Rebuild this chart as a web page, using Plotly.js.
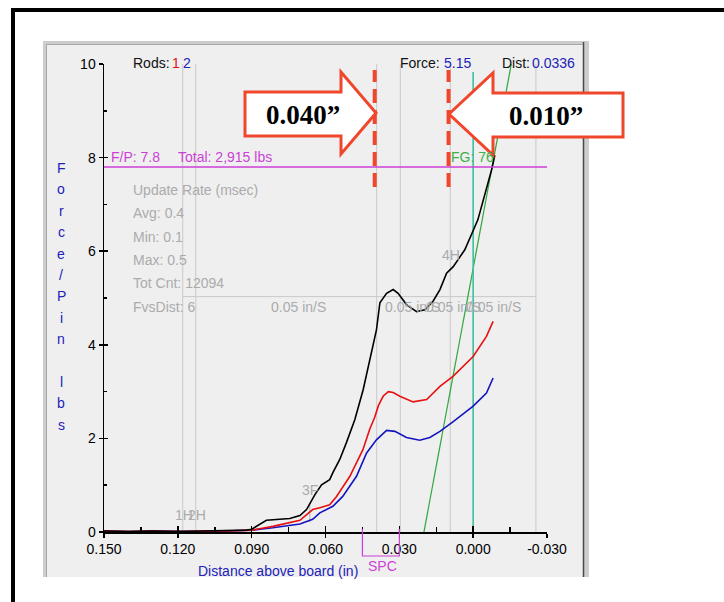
<!DOCTYPE html>
<html>
<head>
<meta charset="utf-8">
<script src="https://cdn.plot.ly/plotly-3.0.1.min.js"></script>
<style>
html,body{margin:0;padding:0;background:#fff;}
#chart{width:724px;height:602px;}
</style>
</head>
<body>
<div id="chart"></div>
<script>
// ---- Data (distance above board in inches, force per pin in lbs) ----
const distBlack = [0.150, 0.140, 0.130, 0.120, 0.110, 0.100, 0.092, 0.090, 0.087, 0.084, 0.0745, 0.0704, 0.0677, 0.0643, 0.0616, 0.0583, 0.0570, 0.0542, 0.0515, 0.0494, 0.0481, 0.0447, 0.0420, 0.0393, 0.0379, 0.0352, 0.0325, 0.0305, 0.0271, 0.0230, 0.0196, 0.0163, 0.0135, 0.0108, 0.0081, 0.0054, 0.0034, -0.0019, -0.0034, -0.0054, -0.0075, -0.0088];
const forceBlack = [0.02, 0.01, 0.02, 0.01, 0.02, 0.03, 0.04, 0.06, 0.15, 0.25, 0.29, 0.35, 0.48, 0.80, 1.01, 1.12, 1.27, 1.55, 1.91, 2.19, 2.40, 3.04, 3.67, 4.32, 4.90, 5.10, 5.18, 5.10, 4.86, 4.71, 4.75, 4.93, 5.18, 5.53, 5.67, 5.89, 6.03, 6.67, 6.95, 7.38, 7.74, 8.05];

const distRed = [0.150, 0.140, 0.130, 0.120, 0.110, 0.100, 0.090, 0.0814, 0.0704, 0.0652, 0.0623, 0.0596, 0.0583, 0.0555, 0.0542, 0.0501, 0.0448, 0.0420, 0.0400, 0.0385, 0.0366, 0.0345, 0.0325, 0.0298, 0.0244, 0.0189, 0.0135, 0.0081, 0.0000, -0.0054, -0.0081];
const forceRed = [0.02, 0.01, 0.02, 0.01, 0.02, 0.02, 0.04, 0.12, 0.25, 0.48, 0.52, 0.57, 0.58, 0.76, 0.87, 1.19, 1.76, 2.20, 2.45, 2.70, 2.90, 3.00, 2.98, 2.90, 2.78, 2.83, 3.11, 3.33, 3.75, 4.18, 4.50];

const distBlue = [0.150, 0.140, 0.130, 0.120, 0.110, 0.100, 0.090, 0.0814, 0.0704, 0.0652, 0.0623, 0.0596, 0.0570, 0.0530, 0.0474, 0.0433, 0.0393, 0.0352, 0.0318, 0.0271, 0.0217, 0.0176, 0.0135, 0.0081, 0.0000, -0.0054, -0.0081];
const forceBlue = [0.02, 0.01, 0.02, 0.01, 0.01, 0.02, 0.04, 0.09, 0.17, 0.27, 0.41, 0.48, 0.55, 0.76, 1.19, 1.69, 1.97, 2.17, 2.15, 2.02, 1.96, 2.02, 2.15, 2.36, 2.69, 2.97, 3.29];

const fgDist = [0.020, -0.0155];
const fgForce = [0.0, 10.0];
const tealDist = [0.000, 0.000];
const tealForce = [0.0, 9.83];
const fpDist = [0.150, -0.030];
const fpForce = [7.8, 7.8];

const markerDist = [0.118, 0.1127, 0.0392, 0.0296, 0.0093, -0.0255];
const speedForce = 5.03;
const speedRange = [0.118, -0.0255];
const speedLabelDist = [0.0825, 0.0363, 0.0196, 0.0034];
const speedLabel = "0.05 in/S";
const arrowDist = [0.040, 0.010];
const arrowLabels = ["0.040\u201D", "0.010\u201D"];
const spcRange = [0.045, 0.030];

const xTickVals = [0.150, 0.120, 0.090, 0.060, 0.030, 0.000, -0.030];
const xTickText = ["0.150", "0.120", "0.090", "0.060", "0.030", "0.000", "-0.030"];
const yTickVals = [0, 2, 4, 6, 8, 10];

const statsLines = ["Update Rate (msec)", "Avg: 0.4", "Min: 0.1", "Max: 0.5", "Tot Cnt: 12094", "FvsDist: 6"];
const yTitle = "Force/Pin lbs";

// ---- helpers (pixel -> paper for decorations) ----
const L = 104, R = 547, T = 64, B = 532;
const pxX = x => (x - L) / (R - L);
const pxY = y => (B - y) / (B - T);
const dX = d => (0.150 - d) / 0.180;
function poly(pts){ return 'M' + pts.map(p => pxX(p[0]).toFixed(5) + ',' + pxY(p[1]).toFixed(5)).join(' L') + ' Z'; }

const FONT = 'Liberation Sans, Arial, sans-serif';
const GRAYTXT = '#ababab';
const BLUE = '#2222b8';
const MAG = '#cc3fd6';
const RED_A = '#f0462c';
const FS = 14;

const traces = [
  {x: fgDist, y: fgForce, mode: 'lines', line: {color: '#2fa83a', width: 1.2}, hoverinfo: 'skip'},
  {x: tealDist, y: tealForce, mode: 'lines', line: {color: '#3cbfa0', width: 1.6}, hoverinfo: 'skip'},
  {x: distBlue, y: forceBlue, mode: 'lines', line: {color: '#1414c0', width: 1.6}, name: 'Rod 2'},
  {x: distRed, y: forceRed, mode: 'lines', line: {color: '#e81010', width: 1.6}, name: 'Rod 1'},
  {x: distBlack, y: forceBlack, mode: 'lines', line: {color: '#000000', width: 1.6}, name: 'Total'},
  {x: fpDist, y: fpForce, xaxis: 'x2', yaxis: 'y2', mode: 'lines', line: {color: MAG, width: 1.6}, hoverinfo: 'skip'}
];

const shapes = [];
// outer black frame
shapes.push({type: 'rect', xref: 'paper', yref: 'paper', x0: pxX(13), x1: pxX(780), y0: pxY(10), y1: pxY(660), line: {color: '#000', width: 4}, layer: 'below'});
// gray window
shapes.push({type: 'rect', xref: 'paper', yref: 'paper', x0: pxX(43), x1: pxX(589), y0: pxY(41), y1: pxY(577), fillcolor: '#cdcdcd', line: {width: 0}, layer: 'below'});
shapes.push({type: 'rect', xref: 'paper', yref: 'paper', x0: pxX(46), x1: pxX(583), y0: pxY(44), y1: pxY(577), fillcolor: '#efefef', line: {width: 0}, layer: 'below'});
shapes.push({type: 'line', xref: 'paper', yref: 'paper', x0: pxX(583.5), x1: pxX(583.5), y0: pxY(42), y1: pxY(577), line: {color: '#4a4a4a', width: 1.5}, layer: 'below'});
shapes.push({type: 'line', xref: 'paper', yref: 'paper', x0: pxX(46), x1: pxX(583), y0: pxY(44.5), y1: pxY(44.5), line: {color: '#a8a8a8', width: 1}, layer: 'below'});
shapes.push({type: 'line', xref: 'paper', yref: 'paper', x0: pxX(46.5), x1: pxX(46.5), y0: pxY(44), y1: pxY(577), line: {color: '#a8a8a8', width: 1}, layer: 'below'});
// event marker grid lines
markerDist.forEach(d => shapes.push({type: 'line', xref: 'x', yref: 'y', x0: d, x1: d, y0: 0, y1: 10, line: {color: '#c9c9c9', width: 1}, layer: 'below'}));
shapes.push({type: 'line', xref: 'x', yref: 'y', x0: speedRange[0], x1: speedRange[1], y0: speedForce, y1: speedForce, line: {color: '#c9c9c9', width: 1}, layer: 'below'});
shapes.push({type: 'line', xref: 'x', yref: 'y', x0: 0.0664, x1: 0.0664, y0: 0.21, y1: 0.58, line: {color: '#b5b5b5', width: 1}, layer: 'below'});
// SPC bracket
shapes.push({type: 'path', xref: 'paper', yref: 'paper',
  path: 'M' + dX(spcRange[0]) + ',' + pxY(529) + ' L' + dX(spcRange[0]) + ',' + pxY(556) + ' L' + dX(spcRange[1]) + ',' + pxY(556) + ' L' + dX(spcRange[1]) + ',' + pxY(529),
  line: {color: MAG, width: 1.2}});
// red dashed lines
arrowDist.forEach(d => shapes.push({type: 'line', xref: 'x', yref: 'y', x0: d, x1: d, y0: 7.37, y1: 9.87, line: {color: RED_A, width: 4, dash: '14px,7px'}, layer: 'above'}));
// arrows
shapes.push({type: 'path', xref: 'paper', yref: 'paper', path: poly([[245,92],[341,92],[341,72],[376,113],[341,154],[341,136],[245,136]]), fillcolor: '#ffffff', line: {color: RED_A, width: 3}, layer: 'above'});
shapes.push({type: 'path', xref: 'paper', yref: 'paper', path: poly([[623,93],[493,93],[493,73],[449,114],[493,155],[493,137],[623,137]]), fillcolor: '#ffffff', line: {color: RED_A, width: 3}, layer: 'above'});

const ann = [];
function txt(text, x, y, color, size, anchor, extra){
  ann.push(Object.assign({text: text, xref: 'paper', yref: 'paper', x: pxX(x), y: pxY(y), xanchor: anchor || 'left', yanchor: 'middle', showarrow: false, borderpad: 0,
    font: {family: FONT, size: size || FS, color: color}}, extra || {}));
}
// header
txt('Rods:', 132, 63, '#111');
txt('1', 171, 63, '#e81010');
txt('2', 182, 63, BLUE);
txt('Force:', 399, 63, '#111');
txt('5.15', 443, 63, BLUE);
txt('Dist:', 501, 63, '#111');
txt('0.0336', 531, 63, BLUE);
// F/P and FG
txt('F/P: 7.8', 110, 157, MAG);
txt('Total: 2,915 lbs', 177, 157, MAG);
txt('FG: 76', 450, 157, '#3cb04a');
// stats
statsLines.forEach((s, i) => txt(s, 132, 190 + i * 23.3, GRAYTXT));
// speed labels
speedLabelDist.forEach(d => ann.push({text: speedLabel, xref: 'x', yref: 'paper', x: d, y: pxY(307), xanchor: 'left', yanchor: 'middle', showarrow: false, borderpad: 0, font: {family: FONT, size: FS, color: GRAYTXT}}));
// event labels
txt('1H', 184, 515, GRAYTXT, FS, 'center');
txt('2H', 197, 515, GRAYTXT, FS, 'center');
txt('3F', 310, 490, GRAYTXT, FS, 'center');
txt('4H', 451, 255, GRAYTXT, FS, 'center');
// axis titles
txt('Distance above board (in)', 278, 571, BLUE, FS, 'center');
yTitle.split('').forEach((c, i) => { if (c !== ' ') txt(c, 61, 168 + i * 21.4, BLUE, 14, 'center'); });
txt('SPC', 382, 566, MAG, FS, 'center');
// arrow labels
txt(arrowLabels[0], 303, 115, '#000', 27, 'center', {font: {family: 'Liberation Serif, Times New Roman, serif', size: 27, color: '#000', weight: 'bold'}});
txt(arrowLabels[1], 546, 116, '#000', 27, 'center', {font: {family: 'Liberation Serif, Times New Roman, serif', size: 27, color: '#000', weight: 'bold'}});

const axisCommon = {showgrid: false, zeroline: false, showline: false, fixedrange: true};
const layout = {
  width: 724, height: 602,
  margin: {l: L, r: 724 - R, t: T, b: 602 - B, pad: 0},
  paper_bgcolor: '#ffffff', plot_bgcolor: 'rgba(0,0,0,0)',
  showlegend: false,
  font: {family: FONT, size: FS, color: '#000'},
  xaxis: Object.assign({}, axisCommon, {range: [0.150, -0.030], tickmode: 'array', tickvals: xTickVals, ticktext: xTickText,
    showline: true, linecolor: '#000', linewidth: 1.5, ticks: 'outside', ticklen: 4, tickwidth: 1.5, tickcolor: '#000',
    tickfont: {family: FONT, size: FS, color: '#000'},
    minor: {ticks: 'inside', ticklen: 5, tickwidth: 1.5, tickcolor: '#000', tickvals: [0.135, 0.105, 0.075, 0.045, 0.015, -0.015]}}),
  yaxis: Object.assign({}, axisCommon, {range: [0, 10], tickmode: 'array', tickvals: yTickVals,
    showline: true, linecolor: '#000', linewidth: 1.5, ticks: 'outside', ticklen: 4, tickwidth: 1.5, tickcolor: '#000',
    tickfont: {family: FONT, size: FS, color: '#000'},
    minor: {ticks: 'inside', ticklen: 3, tickwidth: 1.5, tickcolor: '#000', tickvals: [1, 3, 5, 7, 9]}}),
  xaxis2: Object.assign({}, axisCommon, {overlaying: 'x', anchor: 'y2', side: 'bottom', range: [0.150, -0.030], tickmode: 'array', tickvals: xTickVals,
    showticklabels: false, ticks: 'inside', ticklen: 6, tickwidth: 1.5, tickcolor: '#000'}),
  yaxis2: Object.assign({}, axisCommon, {overlaying: 'y', anchor: 'x2', side: 'left', range: [0, 10], tickmode: 'array', tickvals: yTickVals,
    showticklabels: false, ticks: 'inside', ticklen: 4, tickwidth: 1.5, tickcolor: '#000'}),
  shapes: shapes,
  annotations: ann
};

Plotly.newPlot('chart', traces, layout, {staticPlot: true, displayModeBar: false});
</script>
</body>
</html>
